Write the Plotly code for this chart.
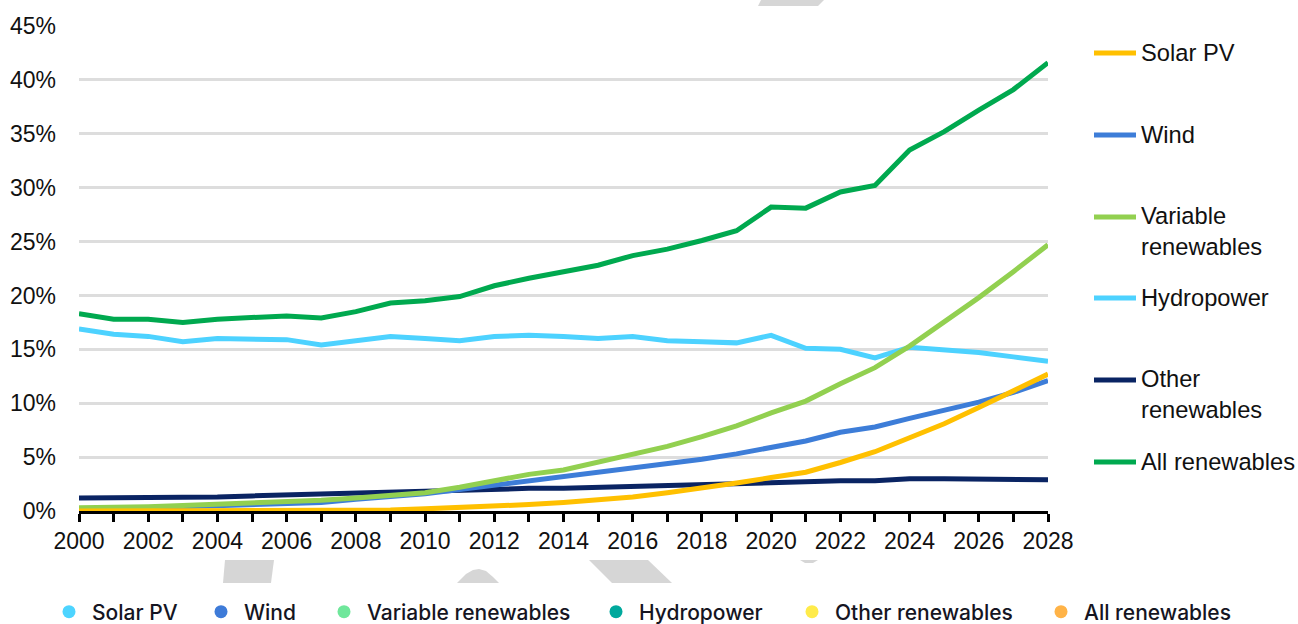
import plotly.graph_objects as go

years = list(range(2000, 2029))

solar_pv = [0.0, 0.0, 0.0, 0.0, 0.0, 0.0, 0.0, 0.0, 0.1, 0.1, 0.2, 0.3, 0.4, 0.6, 0.8,
            1.0, 1.3, 1.7, 2.1, 2.6, 3.1, 3.6, 4.5, 5.5, 6.8, 8.1, 9.6, 11.1, 12.7]
wind = [0.2, 0.2, 0.3, 0.4, 0.5, 0.6, 0.7, 0.8, 1.1, 1.3, 1.6, 2.0, 2.4, 2.8, 3.1,
        3.5, 3.9, 4.4, 4.8, 5.3, 5.9, 6.5, 7.3, 7.8, 8.6, 9.3, 10.1, 11.0, 12.1]
variable_renewables = [0.3, 0.3, 0.4, 0.5, 0.6, 0.7, 0.8, 1.0, 1.2, 1.4, 1.7, 2.2, 2.8, 3.4, 3.8,
                       4.5, 5.2, 6.0, 6.9, 7.9, 9.1, 10.2, 11.8, 13.3, 15.3, 17.5, 19.8, 22.2, 24.7]
hydropower = [16.9, 16.4, 16.2, 15.7, 16.0, 16.0, 15.9, 15.4, 15.8, 16.2, 16.0, 15.8, 16.2, 16.3, 16.2,
              16.0, 16.2, 15.8, 15.7, 15.6, 16.3, 15.1, 15.0, 14.2, 15.2, 15.0, 14.7, 14.3, 13.9]
other_renewables = [1.2, 1.2, 1.3, 1.3, 1.3, 1.4, 1.5, 1.5, 1.6, 1.7, 1.8, 1.9, 2.0, 2.1, 2.1,
                    2.2, 2.3, 2.4, 2.5, 2.6, 2.7, 2.7, 2.8, 2.8, 3.0, 3.0, 3.0, 2.9, 2.9]
all_renewables = [18.3, 17.8, 17.8, 17.5, 17.8, 18.0, 18.1, 17.9, 18.5, 19.3, 19.5, 19.9, 20.9, 21.6, 22.2,
                  22.8, 23.7, 24.3, 25.1, 26.0, 28.2, 28.1, 29.6, 30.2, 33.5, 35.2, 37.2, 39.1, 41.6]

series_names = ["Solar PV", "Wind", "Variable renewables", "Hydropower", "Other renewables", "All renewables"]
series_labels = ["Solar PV", "Wind", "Variable<br>renewables", "Hydropower", "Other<br>renewables", "All renewables"]
series_values = [solar_pv, wind, variable_renewables, hydropower, other_renewables, all_renewables]
line_colors = ["#FFC000", "#3D7DD8", "#92D050", "#4DD2FF", "#0A2463", "#00A94F"]
legend_dot_colors = ["#4DD4FF", "#3E7BD8", "#6FE79B", "#00A99D", "#FFEB4A", "#FFB347"]

W, H = 1298, 624
ML, MR, MT, MB = 79, 250, 26, 113


def px(x):
    return (x - ML) / (W - ML - MR)


def py(y):
    return (H - MB - y) / (H - MT - MB)


fig = go.Figure()

draw_order = [5, 3, 4, 1, 2, 0]
for i in draw_order:
    fig.add_trace(go.Scatter(
        x=years, y=series_values[i], mode="lines", name=series_names[i],
        line=dict(color=line_colors[i], width=5), showlegend=False,
        hovertemplate="%{y:.1f}%<extra>" + series_names[i] + "</extra>",
    ))

# bottom legend (separate legends so each entry can be placed)
legend_dot_x = [70, 222, 345, 617, 813, 1062]
for i, name in enumerate(series_names):
    key = "legend" if i == 0 else f"legend{i + 1}"
    fig.add_trace(go.Scatter(
        x=[None], y=[None], mode="markers", name=name,
        marker=dict(color=legend_dot_colors[i], size=13),
        legend=key, showlegend=True,
    ))
legend_cfg = {}
for i in range(6):
    key = "legend" if i == 0 else f"legend{i + 1}"
    legend_cfg[key] = dict(
        xref="container", yref="container",
        x=(legend_dot_x[i] - 24) / W, y=1 - 612 / H,
        xanchor="left", yanchor="middle",
        bgcolor="rgba(0,0,0,0)", borderwidth=0,
        font=dict(family="Inter", size=21, color="#151522", weight=500),
        itemsizing="trace", itemwidth=36, orientation="h",
    )

# right-side labels with short line swatches
label_y = [53, 135, 217, 298, 380, 462]
shapes = []
annotations = []
for i in range(6):
    shapes.append(dict(
        type="line", xref="paper", yref="paper",
        x0=px(1094), x1=px(1136), y0=py(label_y[i]), y1=py(label_y[i]),
        line=dict(color=line_colors[i], width=5),
    ))
    two = "<br>" in series_labels[i]
    annotations.append(dict(
        xref="paper", yref="paper", x=px(1139), y=py(label_y[i] + (14 if two else 0)),
        xanchor="left", yanchor="middle", align="left", showarrow=False,
        text=series_labels[i],
        font=dict(family="Liberation Sans", size=23.7, color="#111111"),
    ))

# faint watermark fragments visible outside the chart image
def poly(pts):
    return "M " + " L ".join(f"{px(a):.5f},{py(b):.5f}" for a, b in pts) + " Z"

wm = "#D6D6D6"
wm_paths = [
    poly([(762, -2), (826, -2), (818, 6), (758, 6)]),
    poly([(225, 560), (274, 560), (271, 583), (223, 583)]),
    poly([(589, 560), (648, 560), (672, 583), (612, 583)]),
    poly([(457, 583), (466, 574), (473, 570), (479, 569), (486, 571), (493, 577), (499, 583)]),
    poly([(800, 560), (818, 560), (813, 563), (805, 563)]),
]
for p in wm_paths:
    shapes.append(dict(type="path", xref="paper", yref="paper", path=p,
                       fillcolor=wm, line=dict(width=0), layer="below"))

fig.update_layout(
    width=W, height=H,
    margin=dict(l=ML, r=MR, t=MT, b=MB, pad=0, autoexpand=False),
    paper_bgcolor="white", plot_bgcolor="white",
    font=dict(family="Liberation Sans", size=23, color="#111111"),
    shapes=shapes, annotations=annotations,
    **legend_cfg,
)
fig.update_xaxes(
    range=[2000, 2028], tickmode="linear", tick0=2000, dtick=2,
    showgrid=False, zeroline=False, automargin=False,
    showline=True, linecolor="#000000", linewidth=2.5,
    ticks="outside", ticklen=8, tickwidth=2.5, tickcolor="#000000",
    minor=dict(dtick=1, tick0=2000, ticks="outside", ticklen=8, tickwidth=2.5, tickcolor="#000000", showgrid=False),
    tickfont=dict(family="Liberation Sans", size=23, color="#111111"),
    fixedrange=True,
)
fig.update_yaxes(
    range=[0, 45], tickmode="linear", tick0=0, dtick=5, ticksuffix="%",
    showgrid=True, gridcolor="#DDDDDD", gridwidth=2.5,
    zeroline=False, showline=False, ticks="", automargin=False,
    ticklabelstandoff=22,
    tickfont=dict(family="Liberation Sans", size=23, color="#111111"),
    fixedrange=True,
)

fig.write_html(
    "out.html",
    config={"displayModeBar": False},
    post_script="document.body.style.margin='0';document.body.style.overflow='hidden';",
)
